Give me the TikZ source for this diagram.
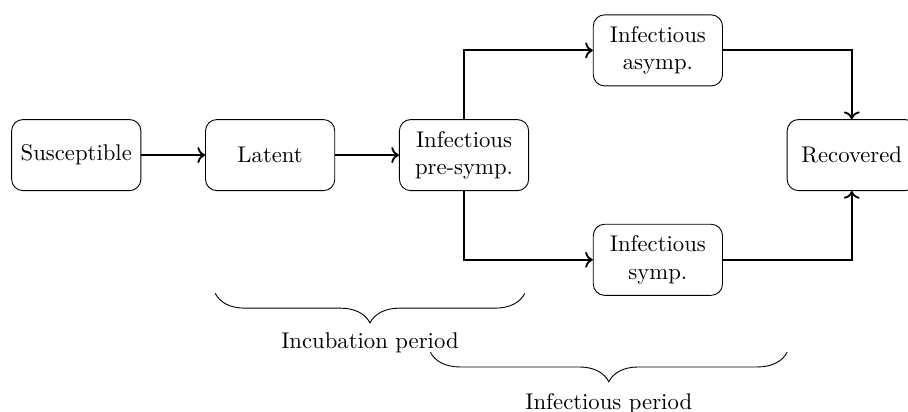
\documentclass[tikz,border=0pt]{standalone}
\usetikzlibrary{arrows.meta,decorations.pathreplacing}

\begin{document}
\begin{tikzpicture}[
    % compartment boxes
    compartment/.style={draw, rounded corners=5pt, minimum width=2cm, minimum height=1.1cm, align=center},
    % transitions between compartments
    flow/.style={thick, ->},
    % braces marking the periods
    period/.style={decorate, decoration={brace, mirror, amplitude=13pt}}
]
    \useasboundingbox (-1.18,2.40) rectangle (12.87,-3.96);

    % Compartments
    \node[compartment] (S) at (0,0) {Susceptible};
    \node[compartment] (L) at (3,0) {Latent};
    \node[compartment] (P) at (6,0) {Infectious\\pre-symp.};
    \node[compartment] (A) at (9,1.62) {Infectious\\asymp.};
    \node[compartment] (Y) at (9,-1.62) {Infectious\\symp.};
    \node[compartment] (R) at (12,0) {Recovered};

    % Transitions
    \draw[flow] (S) -- (L);
    \draw[flow] (L) -- (P);
    \draw[flow] (P.north) |- (A);
    \draw[flow] (P.south) |- (Y);
    \draw[flow] (A) -| (R);
    \draw[flow] (Y) -| (R);

    % Periods
    \coordinate (inc-a) at (2.15,-2.14);
    \coordinate (inc-b) at (6.94,-2.14);
    \coordinate (inf-a) at (5.48,-3.05);
    \coordinate (inf-b) at (11.0,-3.05);
    \draw[period] (inc-a) -- (inc-b) node[midway, yshift=-0.77cm] (inc) {Incubation period};
    \draw[period] (inf-a) -- (inf-b) node[midway, yshift=-0.79cm] (inf) {Infectious period};
\end{tikzpicture}
\end{document}
